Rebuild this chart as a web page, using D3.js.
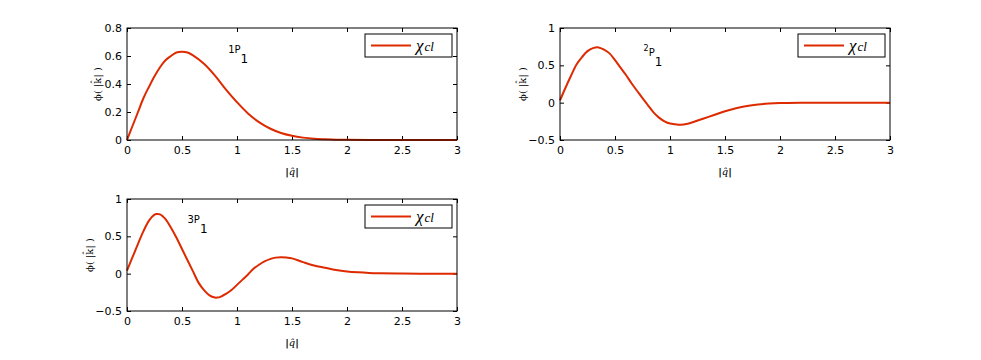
<!DOCTYPE html>
<html>
<head>
<meta charset="utf-8">
<script src="https://cdn.jsdelivr.net/npm/d3@7"></script>
<style>
  body { margin: 0; background: #fff; }
  svg { display: block; }
  .tick text { font-family: "DejaVu Sans", sans-serif; font-size: 11px; fill: #000; }
  .tick line { stroke: #000; }
</style>
</head>
<body>
<svg id="chart" width="981" height="360"></svg>
<script>
// values
const k1 = [0,0.05,0.1,0.15,0.2,0.25,0.3,0.35,0.4,0.45,0.5,0.55,0.6,0.7,0.8,0.9,1.0,1.1,1.2,1.3,1.4,1.5,1.6,1.7,1.8,1.9,2.0,2.2,2.5,3.0];
const phi1 = [0,0.10,0.20,0.30,0.38,0.455,0.52,0.57,0.60,0.625,0.63,0.625,0.605,0.545,0.46,0.36,0.27,0.19,0.128,0.082,0.05,0.03,0.017,0.009,0.005,0.002,0.001,0,0,0];

const k2 = [0,0.05,0.1,0.15,0.2,0.25,0.3,0.35,0.4,0.45,0.5,0.55,0.6,0.65,0.7,0.75,0.8,0.85,0.9,0.95,1.0,1.05,1.1,1.15,1.2,1.3,1.4,1.5,1.6,1.7,1.8,1.9,2.0,2.2,2.5,3.0];
const phi2 = [0.03,0.2,0.36,0.51,0.61,0.69,0.73,0.74,0.71,0.66,0.57,0.47,0.37,0.26,0.16,0.06,-0.035,-0.13,-0.2,-0.25,-0.28,-0.29,-0.295,-0.285,-0.265,-0.215,-0.165,-0.115,-0.075,-0.045,-0.025,-0.012,-0.005,-0.001,0,0];

const k3 = [0,0.05,0.1,0.15,0.2,0.25,0.27,0.3,0.33,0.35,0.4,0.45,0.5,0.55,0.6,0.65,0.7,0.75,0.8,0.82,0.85,0.9,0.95,1.0,1.05,1.1,1.15,1.2,1.25,1.3,1.35,1.4,1.45,1.5,1.6,1.7,1.8,1.9,2.0,2.1,2.2,2.3,2.5,2.75,3.0];
const phi3 = [0.04,0.22,0.40,0.57,0.71,0.79,0.80,0.795,0.76,0.73,0.615,0.48,0.33,0.18,0.03,-0.12,-0.22,-0.29,-0.32,-0.32,-0.31,-0.27,-0.22,-0.15,-0.08,-0.01,0.065,0.12,0.165,0.195,0.215,0.22,0.215,0.205,0.155,0.11,0.08,0.05,0.03,0.018,0.01,0.006,0.002,0,0];

const xTicks = [0,0.5,1,1.5,2,2.5,3];
const yTicksA = [0,0.2,0.4,0.6,0.8];
const yTicksB = [-0.5,0,0.5,1];
const legendLabel = 'χ';
const legendSub = 'cl';

const panels = [
  { k: k1, phi: phi1, yDomain: [0, 0.8], yTicks: yTicksA, left: 127, top: 28, state: '1P', sup: false, at: [0.92, 0.62], ylabOff: 30 },
  { k: k2, phi: phi2, yDomain: [-0.5, 1], yTicks: yTicksB, left: 560, top: 28, state: '2', sup: true, at: [0.76, 0.62], ylabOff: 38 },
  { k: k3, phi: phi3, yDomain: [-0.5, 1], yTicks: yTicksB, left: 127, top: 199, state: '3P', sup: false, at: [0.55, 0.68], ylabOff: 38 }
];
const W = 330, H = 112;
const red = '#dd2a00';
const svg = d3.select('#chart');

panels.forEach(p => {
  const g = svg.append('g').attr('transform', `translate(${p.left},${p.top})`);
  const x = d3.scaleLinear().domain([0, 3]).range([0, W]);
  const y = d3.scaleLinear().domain(p.yDomain).range([H, 0]);

  // axes, ticks pointing inward on all four sides
  const fmt = d => d3.format('')(d);
  g.append('g').attr('transform', `translate(0,${H})`)
    .call(d3.axisBottom(x).tickValues(xTicks).tickSize(-4).tickPadding(6).tickFormat(fmt));
  g.append('g').call(d3.axisTop(x).tickValues(xTicks).tickSize(-4).tickFormat(''));
  g.append('g')
    .call(d3.axisLeft(y).tickValues(p.yTicks).tickSize(-4).tickPadding(5).tickFormat(fmt));
  g.append('g').attr('transform', `translate(${W},0)`)
    .call(d3.axisRight(y).tickValues(p.yTicks).tickSize(-4).tickFormat(''));
  g.selectAll('.domain').remove();
  g.selectAll('.tick text').attr('fill', '#000');

  // curve
  const line = d3.line().x((d, i) => x(p.k[i])).y(d => y(d)).curve(d3.curveCatmullRom.alpha(0.5));
  g.append('path').datum(p.phi)
    .attr('d', line).attr('fill', 'none').attr('stroke', red).attr('stroke-width', 2);

  g.append('rect').attr('width', W).attr('height', H)
    .attr('fill', 'none').attr('stroke', '#000').attr('stroke-width', 1);

  // state annotation
  const ax = x(p.at[0]), ay = y(p.at[1]);
  const ann = g.append('text').attr('x', ax).attr('y', ay)
    .attr('font-family', 'DejaVu Sans, sans-serif').attr('font-size', 10);
  if (p.sup) {
    ann.append('tspan').attr('font-size', 8).attr('dy', -5).text(p.state);
    ann.append('tspan').attr('dy', 5).text('P');
  } else {
    ann.append('tspan').text(p.state);
  }
  ann.append('tspan').attr('font-size', 12).attr('dy', 10).text('1');

  // legend
  const lw = 87, lh = 23;
  const lg = g.append('g').attr('transform', `translate(${W - 5 - lw},6)`);
  lg.append('rect').attr('width', lw).attr('height', lh)
    .attr('fill', '#fff').attr('stroke', '#000').attr('stroke-width', 1);
  lg.append('line').attr('x1', 6).attr('x2', 46).attr('y1', lh / 2).attr('y2', lh / 2)
    .attr('stroke', red).attr('stroke-width', 2);
  const lt = lg.append('text').attr('x', 51).attr('y', lh / 2 + 5)
    .attr('font-family', 'Liberation Serif, serif').attr('font-style', 'italic');
  lt.append('tspan').attr('font-size', 17).text(legendLabel);
  lt.append('tspan').attr('font-size', 13).attr('dx', 1).text(legendSub);

  // axis labels
  g.append('text').attr('x', W / 2).attr('y', H + 35).attr('text-anchor', 'middle')
    .attr('font-family', 'DejaVu Serif, serif').attr('font-size', 10)
    .html('<tspan font-weight="bold">|</tspan><tspan font-style="italic">q̂</tspan><tspan font-weight="bold">|</tspan>');
  g.append('text')
    .attr('transform', `translate(${-p.ylabOff},${H / 2}) rotate(-90)`)
    .attr('text-anchor', 'middle').attr('dy', '0.35em')
    .attr('font-family', 'DejaVu Serif, serif').attr('font-size', 10)
    .text('ϕ( |k̂| )');
});
</script>
</body>
</html>
